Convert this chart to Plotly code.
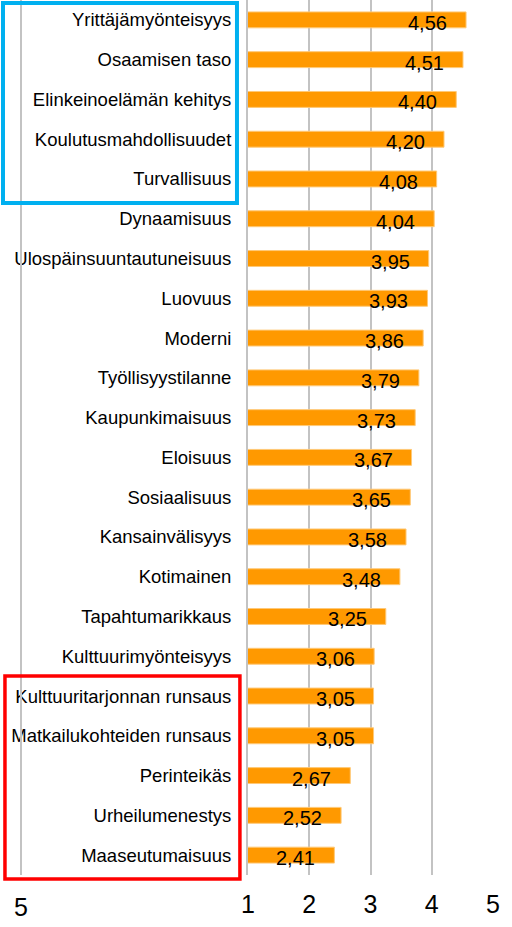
import plotly.graph_objects as go

categories = [
    "Yrittäjämyönteisyys", "Osaamisen taso", "Elinkeinoelämän kehitys",
    "Koulutusmahdollisuudet", "Turvallisuus", "Dynaamisuus",
    "Ulospäinsuuntautuneisuus", "Luovuus", "Moderni", "Työllisyystilanne",
    "Kaupunkimaisuus", "Eloisuus", "Sosiaalisuus", "Kansainvälisyys",
    "Kotimainen", "Tapahtumarikkaus", "Kulttuurimyönteisyys",
    "Kulttuuritarjonnan runsaus", "Matkailukohteiden runsaus", "Perinteikäs",
    "Urheilumenestys", "Maaseutumaisuus",
]
values = [4.56, 4.51, 4.40, 4.20, 4.08, 4.04, 3.95, 3.93, 3.86, 3.79, 3.73,
          3.67, 3.65, 3.58, 3.48, 3.25, 3.06, 3.05, 3.05, 2.67, 2.52, 2.41]
x_ticks = [1, 2, 3, 4, 5]
left_tick_label = "5"

FONT = "Liberation Sans, Arial, sans-serif"
GRID = "#c3c3c3"

fig = go.Figure()
fig.add_trace(go.Bar(
    y=categories, x=values, orientation="h",
    marker=dict(color="#FF9900", line=dict(color="#FFC977", width=1)),
    hoverinfo="skip",
))

for c, v in zip(categories, values):
    fig.add_annotation(
        x=v, y=c, xref="x", yref="y", xanchor="right", yanchor="middle",
        xshift=-17, yshift=-3, showarrow=False,
        text=f"{v:.2f}".replace(".", ","),
        font=dict(family=FONT, size=20, color="#000000"),
    )

# left partial axis line and its label
fig.add_shape(type="line", xref="paper", yref="paper",
              x0=-0.9265, x1=-0.9265, y0=0, y1=1,
              line=dict(color=GRID, width=2))
fig.add_annotation(x=-0.9265, y=-0.036, xref="paper", yref="paper",
                   text=left_tick_label, showarrow=False,
                   xanchor="center", yanchor="middle",
                   font=dict(family=FONT, size=25, color="#000000"))

# highlight boxes
fig.add_shape(type="rect", xref="paper", yref="paper",
              x0=-1.0, x1=-0.045, y0=0.768, y1=0.9966,
              line=dict(color="#00B0F0", width=4))
fig.add_shape(type="rect", xref="paper", yref="paper",
              x0=-0.992, x1=-0.033, y0=-0.0046, y1=0.2274,
              line=dict(color="#FF0000", width=3.5))

fig.update_layout(
    width=512, height=927,
    margin=dict(l=248, r=19, t=0, b=52, autoexpand=False),
    paper_bgcolor="white", plot_bgcolor="white",
    bargap=0.6, showlegend=False,
    font=dict(family=FONT, color="#000000"),
    xaxis=dict(range=[1, 5], tickvals=x_ticks, showgrid=True,
               gridcolor=GRID, gridwidth=2, zeroline=False, showline=False,
               tickfont=dict(size=25, family=FONT), ticks="",
               ticklabelstandoff=12, automargin=False),
    yaxis=dict(categoryorder="array", categoryarray=categories,
               autorange="reversed", showgrid=False, zeroline=False,
               showline=True, linecolor=GRID, linewidth=2, ticks="",
               tickfont=dict(size=18.5, family=FONT),
               ticklabelstandoff=11, automargin=False),
)

fig.write_html(
    "out.html",
    config={"displayModeBar": False, "staticPlot": True},
    post_script="document.body.style.margin='0';document.body.style.overflow='hidden';",
)
